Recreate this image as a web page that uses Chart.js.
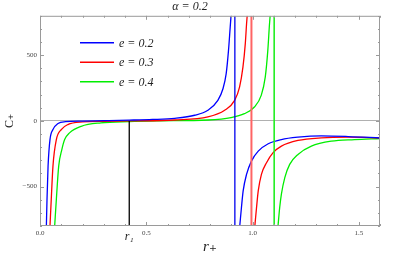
<!DOCTYPE html>
<html>
<head>
<meta charset="utf-8">
<script src="https://cdn.jsdelivr.net/npm/chart.js@4.4.1/dist/chart.umd.min.js"></script>
<style>
  html, body { margin: 0; padding: 0; background: #fff; }
  #wrap { width: 415px; height: 259px; }
</style>
</head>
<body>
<div id="wrap"><canvas id="heat"></canvas></div>
<script>
// alpha = 0.2, heat capacity C+ vs r+ for three values of e
const alphaValue = 0.2;
const eValues = [0.2, 0.3, 0.4];

// e = 0.2 (null marks the divergence)
const rE02 = [0.030, 0.033, 0.038, 0.047, 0.061, 0.085, 0.12, 0.2, 0.3, 0.42, 0.53, 0.634, 0.728, 0.790, 0.837, 0.861, 0.876, 0.887, 0.895, 0.899,
  0.917,
  0.940, 0.948, 0.956, 0.972, 0.995, 1.027, 1.074, 1.136, 1.214, 1.324, 1.450, 1.600];
const cE02 = [-800, -596, -344, -142, -66, -20, -6, -1, 2, 6, 11, 20, 43, 81, 156, 245, 358, 535, 712, 800,
  null,
  -800, -659, -533, -407, -306, -230, -174, -142, -124, -114, -119, -130];

// e = 0.3
const rE03 = [0.047, 0.053, 0.061, 0.077, 0.100, 0.131, 0.2, 0.3, 0.42, 0.634, 0.790, 0.869, 0.916, 0.939, 0.955, 0.966, 0.972, 0.975,
  0.995,
  1.011, 1.019, 1.027, 1.042, 1.066, 1.097, 1.136, 1.214, 1.324, 1.450, 1.600];
const cE03 = [-800, -596, -344, -142, -66, -28, -8, -3, 0, 7, 30, 81, 156, 257, 409, 586, 737, 800,
  null,
  -800, -659, -533, -407, -318, -242, -192, -149, -129, -124, -129];

// e = 0.4
const rE04 = [0.069, 0.077, 0.088, 0.103, 0.116, 0.139, 0.194, 0.287, 0.42, 0.55, 0.79, 0.899, 0.962, 1.009, 1.041, 1.060, 1.072, 1.080, 1.083,
  1.102,
  1.120, 1.128, 1.136, 1.152, 1.175, 1.214, 1.277, 1.371, 1.480, 1.600];
const cE04 = [-800, -596, -344, -217, -142, -91, -41, -15, -5, 0, 7, 25, 55, 106, 194, 333, 535, 737, 800,
  null,
  -800, -659, -558, -432, -331, -255, -192, -154, -142, -134];

const asymptotes = [0.917, 0.995, 1.102];
const r1 = 0.42;

const xTicksMajor = [0, 0.5, 1.0, 1.5];
const yTicksMajor = [-500, 0, 500];

const curveColors = ['#0000ff', '#ff0000', '#00ee00'];
const asymColors = ['#0000ee', '#ff6464', '#22ee22'];
const asymWidths = [1.3, 2, 1.6];

const yMin = -800, yMax = 800;
const serif = '"Liberation Serif", "DejaVu Serif", serif';

function pts(rs, cs) {
  return rs.map((r, i) => ({ x: r, y: cs[i] }));
}

const series = [pts(rE02, cE02), pts(rE03, cE03), pts(rE04, cE04)];

const datasets = [];
asymptotes.forEach((a, i) => {
  datasets.push({
    label: 'asym' + i,
    data: [{ x: a, y: yMin }, { x: a, y: yMax }],
    borderColor: asymColors[i],
    borderWidth: asymWidths[i],
    pointRadius: 0
  });
});
datasets.push({
  label: 'r1',
  data: [{ x: r1, y: 0 }, { x: r1, y: yMin }],
  borderColor: '#000',
  borderWidth: 1.3,
  pointRadius: 0
});
series.forEach((d, i) => {
  datasets.push({
    label: 'e = ' + eValues[i].toFixed(1),
    data: d,
    borderColor: curveColors[i],
    borderWidth: 1.3,
    pointRadius: 0,
    spanGaps: false,
    cubicInterpolationMode: 'monotone',
    legendItem: true
  });
});

const isMajor = (v, list) => list.some(m => Math.abs(m - v) < 1e-6);

const framePlugin = {
  id: 'frame',
  afterDatasetsDraw(chart) {
    const { ctx, chartArea: a, scales } = chart;
    const xs = scales.x, ys = scales.y;
    ctx.save();
    ctx.strokeStyle = '#9a9a9a';
    ctx.lineWidth = 1;
    ctx.strokeRect(a.left + 0.5, a.top + 0.5, a.right - a.left - 1, a.bottom - a.top - 1);
    ctx.beginPath();
    xs.ticks.forEach(t => {
      const px = Math.round(xs.getPixelForValue(t.value)) + 0.5;
      const len = isMajor(t.value, xTicksMajor) ? 4 : 2;
      ctx.moveTo(px, a.bottom); ctx.lineTo(px, a.bottom - len);
      ctx.moveTo(px, a.top); ctx.lineTo(px, a.top + len);
    });
    ys.ticks.forEach(t => {
      const py = Math.round(ys.getPixelForValue(t.value)) + 0.5;
      const len = isMajor(t.value, yTicksMajor) ? 4 : 2;
      ctx.moveTo(a.left, py); ctx.lineTo(a.left + len, py);
      ctx.moveTo(a.right, py); ctx.lineTo(a.right - len, py);
    });
    ctx.stroke();

    // legend
    const items = chart.data.datasets.filter(d => d.legendItem);
    ctx.font = 'italic 12px ' + serif;
    ctx.textBaseline = 'middle';
    ctx.fillStyle = '#222';
    items.forEach((d, i) => {
      const y = a.top + 27 + i * 19.5;
      ctx.strokeStyle = d.borderColor;
      ctx.lineWidth = 1.5;
      ctx.beginPath();
      ctx.moveTo(a.left + 40, y);
      ctx.lineTo(a.left + 74, y);
      ctx.stroke();
      ctx.fillText(d.label, a.left + 79, y + 1);
    });

    // r1 label
    ctx.font = 'italic 12px ' + serif;
    ctx.textAlign = 'center';
    ctx.fillText('r\u2081', xs.getPixelForValue(r1), a.bottom + 11);
    ctx.restore();
  }
};

new Chart(document.getElementById('heat'), {
  type: 'line',
  data: { datasets },
  options: {
    responsive: true,
    maintainAspectRatio: false,
    animation: false,
    layout: { padding: { left: 0, right: 35, top: 0, bottom: 0 } },
    plugins: {
      legend: { display: false },
      tooltip: { enabled: false },
      title: {
        display: true,
        text: '\u03b1 = ' + alphaValue,
        font: { family: serif, style: 'italic', size: 12, weight: 'normal', lineHeight: 1.15 },
        color: '#222',
        padding: { top: 0, bottom: 2 }
      }
    },
    scales: {
      x: {
        type: 'linear',
        min: 0,
        max: 1.6,
        afterFit: s => { s.height = 33; },
        border: { display: false },
        grid: { display: false, drawTicks: false },
        ticks: {
          stepSize: 0.1,
          autoSkip: false,
          maxRotation: 0,
          padding: 3,
          color: '#444',
          font: { family: serif, size: 7 },
          callback: v => isMajor(v, xTicksMajor) ? v.toFixed(1) : ''
        },
        title: {
          display: true,
          text: 'r\u208a',
          color: '#222',
          font: { family: serif, style: 'italic', size: 15 },
          padding: { top: 0, bottom: 3 }
        }
      },
      y: {
        min: yMin,
        max: yMax,
        afterFit: s => { s.width = 40; },
        border: { display: false },
        grid: {
          drawTicks: false,
          color: c => c.tick && c.tick.value === 0 ? '#b0b0b0' : 'rgba(0,0,0,0)',
          lineWidth: 1
        },
        ticks: {
          stepSize: 100,
          autoSkip: false,
          padding: 3,
          color: '#444',
          font: { family: serif, size: 7 },
          callback: v => isMajor(v, yTicksMajor) ? (v < 0 ? '\u2212' + Math.abs(v) : String(v)) : ''
        },
        title: {
          display: true,
          text: 'C\u208a',
          color: '#222',
          font: { family: serif, size: 12 },
          padding: { top: 3, bottom: 0 }
        }
      }
    }
  },
  plugins: [framePlugin]
});
</script>
</body>
</html>
